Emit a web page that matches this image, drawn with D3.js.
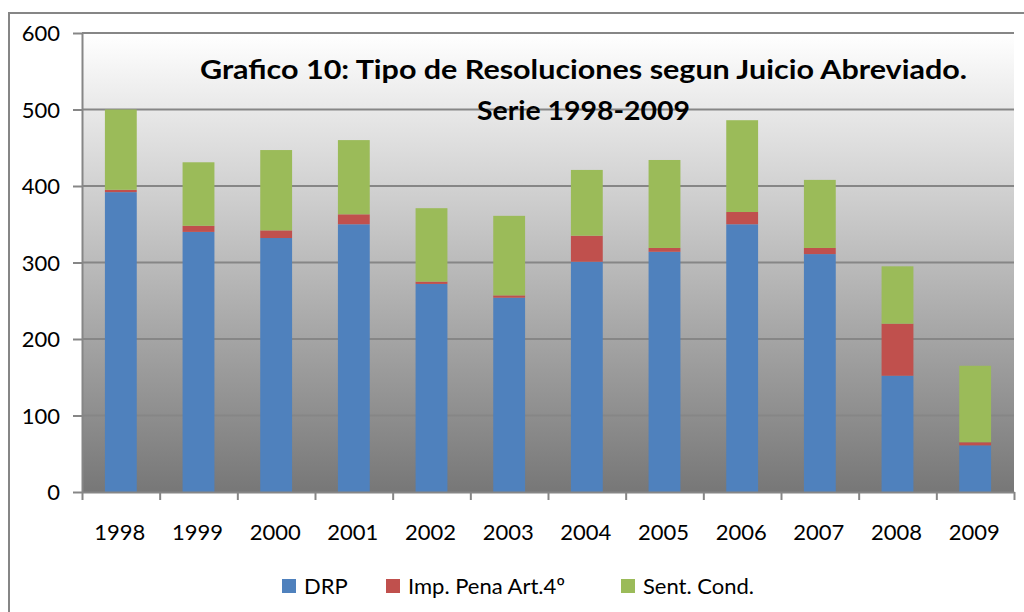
<!DOCTYPE html>
<html lang="es">
<head>
<meta charset="UTF-8">
<title>Grafico 10</title>
<style>
  html, body { margin: 0; background: #fff; overflow: hidden; }
  svg { display: block; }
  svg text { font-family: Lato, "Noto Sans", sans-serif; fill: #000; }
  .axis path, .axis line { stroke: #868686; stroke-width: 2; }
</style>
</head>
<body>
<div id="chart"></div>
<script src="https://d3js.org/d3.v7.min.js"></script>
<script>
// data
var years = ["1998","1999","2000","2001","2002","2003","2004","2005","2006","2007","2008","2009"];
var drp  = [392, 340, 332, 350, 272, 254, 301, 314, 350, 311, 152, 61];
var imp  = [3, 8, 10, 13, 3, 3, 34, 5, 16, 8, 68, 4];
var sent = [105, 83, 105, 97, 96, 104, 86, 115, 120, 89, 75, 100];
var seriesNames = ["DRP", "Imp. Pena Art.4º", "Sent. Cond."];
var colors = ["#4f81bd", "#c0504d", "#9bbb59"];
var yTicks = [0, 100, 200, 300, 400, 500, 600];

var W = 1024, H = 612;
var plot = {left: 82, top: 33, right: 1014, bottom: 492};

var svg = d3.select("#chart").append("svg").attr("width", W).attr("height", H);

// gradient for the plot area
var grad = svg.append("defs").append("linearGradient")
    .attr("id", "bg").attr("x1", 0).attr("y1", 0).attr("x2", 0).attr("y2", 1);
grad.append("stop").attr("offset", "0%").attr("stop-color", "#ffffff");
grad.append("stop").attr("offset", "100%").attr("stop-color", "#777777");

// outer frame: only left and top edges are inside the picture
svg.append("path").attr("d", "M9," + H + "V13H" + W)
    .attr("fill", "none").attr("stroke", "#868686").attr("stroke-width", 2);

var x = d3.scaleBand().domain(years).range([plot.left, plot.right])
    .paddingInner(0.59).paddingOuter(0.295);
var xEdge = d3.scaleLinear().domain([0, years.length]).range([plot.left, plot.right]);
var y = d3.scaleLinear().domain([0, 600]).range([plot.bottom, plot.top]);

svg.append("rect").attr("x", plot.left).attr("y", plot.top)
    .attr("width", plot.right - plot.left).attr("height", plot.bottom - plot.top)
    .attr("fill", "url(#bg)");

// gridlines
svg.append("g").selectAll("line").data(yTicks.slice(1)).enter().append("line")
    .attr("x1", plot.left).attr("x2", plot.right)
    .attr("y1", function(d){ return y(d); }).attr("y2", function(d){ return y(d); })
    .attr("stroke", "#868686").attr("stroke-width", 2);

// stacked bars
var rows = years.map(function(yr, i){ return {year: yr, a: drp[i], b: imp[i], c: sent[i]}; });
var stack = d3.stack().keys(["a", "b", "c"])(rows);

svg.append("g").selectAll("g").data(stack).enter().append("g")
    .attr("fill", function(d, i){ return colors[i]; })
  .selectAll("rect").data(function(d){ return d; }).enter().append("rect")
    .attr("x", function(d){ return x(d.data.year); })
    .attr("width", x.bandwidth())
    .attr("y", function(d){ return y(d[1]); })
    .attr("height", function(d){ return y(d[0]) - y(d[1]); });

// y axis
svg.append("g").attr("class", "axis")
    .attr("transform", "translate(" + plot.left + ",0)")
    .call(d3.axisLeft(y).tickValues(yTicks).tickSize(9).tickPadding(13).tickSizeOuter(0))
    .call(function(g){
        g.selectAll("text").style("font-size", "22px").attr("dy", "0.36em");
    });

// x axis: line and boundary ticks
svg.append("g").attr("class", "axis")
    .attr("transform", "translate(0," + plot.bottom + ")")
    .call(d3.axisBottom(xEdge).tickValues(d3.range(years.length + 1)).tickSize(8)
          .tickFormat("").tickSizeOuter(0));

svg.append("g").selectAll("text").data(years).enter().append("text")
    .attr("x", function(d){ return x(d) + x.bandwidth() / 2 - 1; })
    .attr("y", 540)
    .attr("text-anchor", "middle")
    .style("font-size", "22px")
    .text(function(d){ return d; });

// title
var title = svg.append("text").attr("text-anchor", "middle").style("font-weight", "bold")
    .style("font-size", "27px");
title.append("tspan").attr("x", 583.5).attr("y", 79)
    .attr("textLength", 767).attr("lengthAdjust", "spacingAndGlyphs")
    .text("Grafico 10: Tipo de Resoluciones segun Juicio Abreviado.");
title.append("tspan").attr("x", 583.5).attr("y", 120)
    .attr("textLength", 213).attr("lengthAdjust", "spacingAndGlyphs")
    .text("Serie 1998-2009");

// legend
var legendX = [282, 386, 621];
var legend = svg.append("g").selectAll("g").data(seriesNames).enter().append("g")
    .attr("transform", function(d, i){ return "translate(" + legendX[i] + ",579)"; });
legend.append("rect").attr("width", 14).attr("height", 14)
    .attr("fill", function(d, i){ return colors[i]; });
legend.append("text").attr("x", 22).attr("y", 15).style("font-size", "22px")
    .text(function(d){ return d; });
</script>
</body>
</html>
